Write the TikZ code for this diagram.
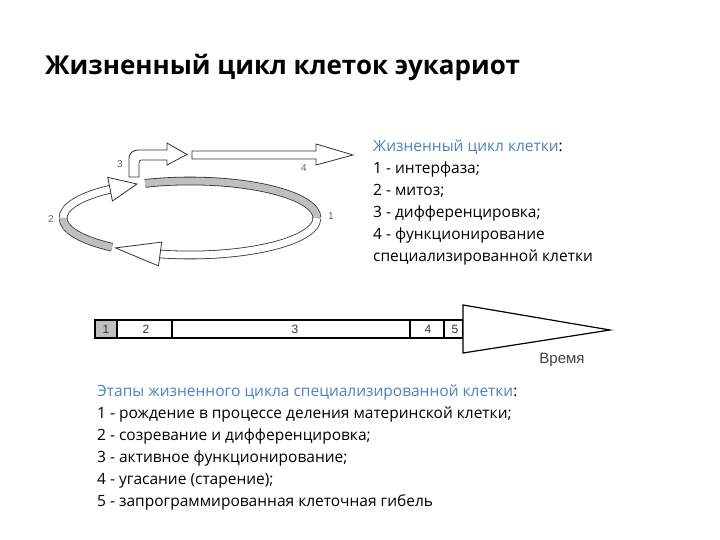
\documentclass[tikz,border=0pt]{standalone}
\usepackage{fontspec}
\setmainfont{Open Sans}
\setsansfont{Liberation Sans}
\newfontfamily\titlefont{Open Sans}
\begin{document}
\begin{tikzpicture}[x=1pt,y=-1pt,
  band/.style={double distance=7pt,line width=0.8pt,draw=black!80},
  head/.style={draw=black!80,fill=white,line width=0.8pt,line join=miter},
  seg/.style={draw=black,line width=1.2pt},
  small/.style={text=black!60,font=\sffamily\fontsize{10}{10}\selectfont},
  barnum/.style={text=black!80,font=\sffamily\fontsize{12}{12}\selectfont},
  txt/.style={anchor=north west,inner sep=0pt,align=left,font=\fontsize{15.5}{22}\selectfont}]
\useasboundingbox (0,0) rectangle (720,540);
\definecolor{hblue}{RGB}{79,129,189}
\node[anchor=base west,inner sep=0pt,font=\titlefont\bfseries\fontsize{26}{26}\selectfont] (title) at (45,75) {Жизненный цикл клеток эукариот};
% cycle
\draw[band,double=black!25] (190,218) ++(249.3:127 and 37) coordinate (a0) arc[start angle=249.3,end angle=360,x radius=127,y radius=37];
\draw[band,double=white] (317,218) arc[start angle=0,end angle=103.6,x radius=127,y radius=37];
\draw[head] (161.7,242.1) -- (115.4,247.9) -- (158.5,265.9) -- cycle;
\draw[band,double=black!25] (190,218) ++(127.9:127 and 37) arc[start angle=127.9,end angle=180,x radius=127,y radius=37];
\draw[band,double=white] (63,218) arc[start angle=180,end angle=231,x radius=127,y radius=37];
\draw[head] (112.4,201) -- (137,184) -- (107.8,177.4) -- cycle;
% bent arrow 3
\draw[head] (129,177) -- (129,158) to[out=90,in=180] (138,150) -- (167,150) -- (167,143) -- (187,154.5) -- (167,165) -- (167,160) -- (141,160) to[out=180,in=90] (139,163) -- (139,177) -- cycle;
% arrow 4
\draw[head] (192,151) -- (316,151) -- (316,144) -- (353,155) -- (316,165) -- (316,159) -- (192,159) -- cycle;
\node[small] (l3) at (120,164) {3};
\node[small] (l4) at (304,168) {4};
\node[small] (l2) at (51,219) {2};
\node[small] (l1) at (331,216) {1};
% text right
\node[txt] (rt) at (373,140) {\textcolor{hblue}{Жизненный цикл клетки}:\\1 - интерфаза;\\2 - митоз;\\3 - дифференцировка;\\4 - функционирование\\специализированной клетки};
% bar
\draw[seg,fill=black!25] (95,320) rectangle (117,338);
\node[barnum] (b1) at (106,329) {1};
\draw[seg] (117,320) rectangle (172,338);
\node[barnum] (b2) at (146,329) {2};
\draw[seg] (172,320) rectangle (410,338);
\node[barnum] (b3) at (295,329) {3};
\draw[seg] (410,320) rectangle (444,338);
\node[barnum] (b4) at (428,329) {4};
\draw[seg] (444,320) rectangle (463,338);
\node[barnum] (b5) at (455,329) {5};
\draw[seg,fill=white,line join=miter] (463,305) -- (610,330) -- (463,353) -- cycle;
\node[small,text=black!75,font=\sffamily\fontsize{15}{15}\selectfont] (time) at (562,360) {Время};
% text bottom
\node[txt] (bt) at (97,385) {\textcolor{hblue}{Этапы жизненного цикла специализированной клетки}:\\1 - рождение в процессе деления материнской клетки;\\2 - созревание и дифференцировка;\\3 - активное функционирование;\\4 - угасание (старение);\\5 - запрограммированная клеточная гибель};
\end{tikzpicture}
\end{document}
